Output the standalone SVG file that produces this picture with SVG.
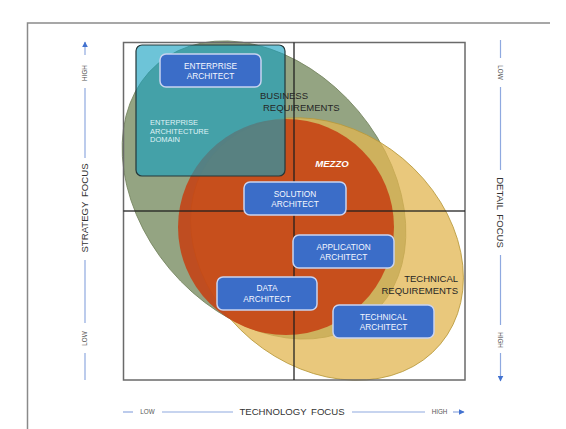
<svg xmlns="http://www.w3.org/2000/svg" width="566" height="429" viewBox="0 0 566 429">
<defs>
<style>
.box{fill:#3b6dc8;stroke:#c9d3f0;stroke-width:1.5}
.bt{font-family:"Liberation Sans",Arial,sans-serif;font-size:8.3px;fill:#f4f7ff;text-anchor:middle}
.ax{stroke:#8fa9e0;stroke-width:1.2;fill:none}
.axl{font-family:"Liberation Sans",Arial,sans-serif;font-size:9.6px;fill:#333;text-anchor:middle;word-spacing:2px}
.axs{font-family:"Liberation Sans",Arial,sans-serif;font-size:6.3px;fill:#555;text-anchor:middle}
.lbl{font-family:"Liberation Sans",Arial,sans-serif;font-size:9.5px;fill:#262626}
</style>
<marker id="arr" viewBox="0 0 10 10" refX="9" refY="5" markerWidth="6" markerHeight="6" orient="auto" markerUnits="userSpaceOnUse">
<path d="M0,0 L10,5 L0,10 z" fill="#4272d0"/>
</marker>
</defs>
<rect width="566" height="429" fill="#fff"/>
<!-- outer frame -->
<path d="M27.5,429 V23 H550" fill="none" stroke="#8a8a8a" stroke-width="1.5"/>

<g id="business-requirements">
<ellipse cx="264" cy="190" rx="165" ry="123" transform="rotate(50 264 190)" fill="#94a482" stroke="#74845f" stroke-width="0.8"/>
</g>
<g id="technical-requirements">
<ellipse cx="327" cy="249" rx="148" ry="118" transform="rotate(40 327 249)" fill="#e2b550" fill-opacity="0.75" stroke="#b89a3c" stroke-width="0.8"/>
</g>
<g id="mezzo">
<circle cx="286" cy="227" r="108" fill="#c63f12" fill-opacity="0.86"/>
</g>
<g id="enterprise-architecture-domain">
<rect x="136" y="45" width="149" height="131" rx="6" fill="#14a0c0" fill-opacity="0.62" stroke="#24383a" stroke-width="1.2"/>
</g>

<!-- quadrant frame -->
<g id="quadrants" fill="none">
<rect x="123.5" y="42.5" width="341.5" height="337.5" stroke="#6a6a6a" stroke-width="1.5"/>
<line x1="294" y1="42.5" x2="294" y2="380" stroke="#1e1e1e" stroke-width="1.5" stroke-opacity="0.85"/>
<line x1="123.5" y1="211" x2="465" y2="211" stroke="#1e1e1e" stroke-width="1.5" stroke-opacity="0.85"/>
</g>

<!-- region labels -->
<text class="lbl" x="260" y="99">BUSINESS</text>
<text class="lbl" x="263" y="110.5">REQUIREMENTS</text>
<text class="lbl" x="458" y="282" text-anchor="end">TECHNICAL</text>
<text class="lbl" x="458" y="293.5" text-anchor="end">REQUIREMENTS</text>
<text x="332" y="166.5" font-family="'Liberation Sans',Arial,sans-serif" font-size="9.6px" font-weight="bold" font-style="italic" fill="#fff" text-anchor="middle">MEZZO</text>
<text font-family="'Liberation Sans',Arial,sans-serif" font-size="7.5px" fill="#dff2f6">
<tspan x="150" y="125">ENTERPRISE</tspan>
<tspan x="150" y="133.5">ARCHITECTURE</tspan>
<tspan x="150" y="142">DOMAIN</tspan>
</text>

<g id="enterprise-architect">
<rect class="box" x="160" y="54" width="101" height="33" rx="6"/>
<text class="bt" x="210.5" y="68.5">ENTERPRISE</text>
<text class="bt" x="210.5" y="78.8">ARCHITECT</text>
</g>
<g id="solution-architect">
<rect class="box" x="244" y="182" width="102" height="33" rx="6"/>
<text class="bt" x="295" y="196.5">SOLUTION</text>
<text class="bt" x="295" y="206.8">ARCHITECT</text>
</g>
<g id="application-architect">
<rect class="box" x="293" y="235" width="101" height="33" rx="6"/>
<text class="bt" x="343.5" y="249.5">APPLICATION</text>
<text class="bt" x="343.5" y="259.8">ARCHITECT</text>
</g>
<g id="data-architect">
<rect class="box" x="217" y="277" width="100" height="33" rx="6"/>
<text class="bt" x="267" y="291">DATA</text>
<text class="bt" x="267" y="301.5">ARCHITECT</text>
</g>
<g id="technical-architect">
<rect class="box" x="333" y="305" width="101" height="33" rx="6"/>
<text class="bt" x="383.5" y="319.5">TECHNICAL</text>
<text class="bt" x="383.5" y="329.8">ARCHITECT</text>
</g>

<g id="axes">
<!-- left axis -->
<line class="ax" x1="85" y1="55" x2="85" y2="42" marker-end="url(#arr)"/>
<line class="ax" x1="85" y1="88" x2="85" y2="158"/>
<line class="ax" x1="85" y1="260" x2="85" y2="323"/>
<line class="ax" x1="85" y1="353" x2="85" y2="380"/>
<!-- right axis -->
<line class="ax" x1="500.5" y1="40" x2="500.5" y2="58"/>
<line class="ax" x1="500.5" y1="87" x2="500.5" y2="170"/>
<line class="ax" x1="500.5" y1="255" x2="500.5" y2="325"/>
<line class="ax" x1="500.5" y1="353" x2="500.5" y2="381" marker-end="url(#arr)"/>
<!-- bottom axis -->
<line class="ax" x1="123" y1="412" x2="133" y2="412"/>
<line class="ax" x1="162" y1="412" x2="233" y2="412"/>
<line class="ax" x1="352" y1="412" x2="425" y2="412"/>
<line class="ax" x1="453" y1="412" x2="464" y2="412" marker-end="url(#arr)"/>
</g>

<g id="axis-labels">
<text class="axs" transform="translate(85 73) rotate(-90)" y="2.2">HIGH</text>
<text class="axl" transform="translate(85 208) rotate(-90)" y="3.4">STRATEGY FOCUS</text>
<text class="axs" transform="translate(85 338.5) rotate(-90)" y="2.2">LOW</text>
<text class="axs" transform="translate(500.5 72.5) rotate(90)" y="2.2">LOW</text>
<text class="axl" transform="translate(500.5 212.5) rotate(90)" y="3.4">DETAIL FOCUS</text>
<text class="axs" transform="translate(500.5 340) rotate(90)" y="2.2">HIGH</text>
<text class="axs" x="147.5" y="414.2">LOW</text>
<text class="axl" x="292" y="415.4">TECHNOLOGY FOCUS</text>
<text class="axs" x="439.5" y="414.2">HIGH</text>
</g>
</svg>
